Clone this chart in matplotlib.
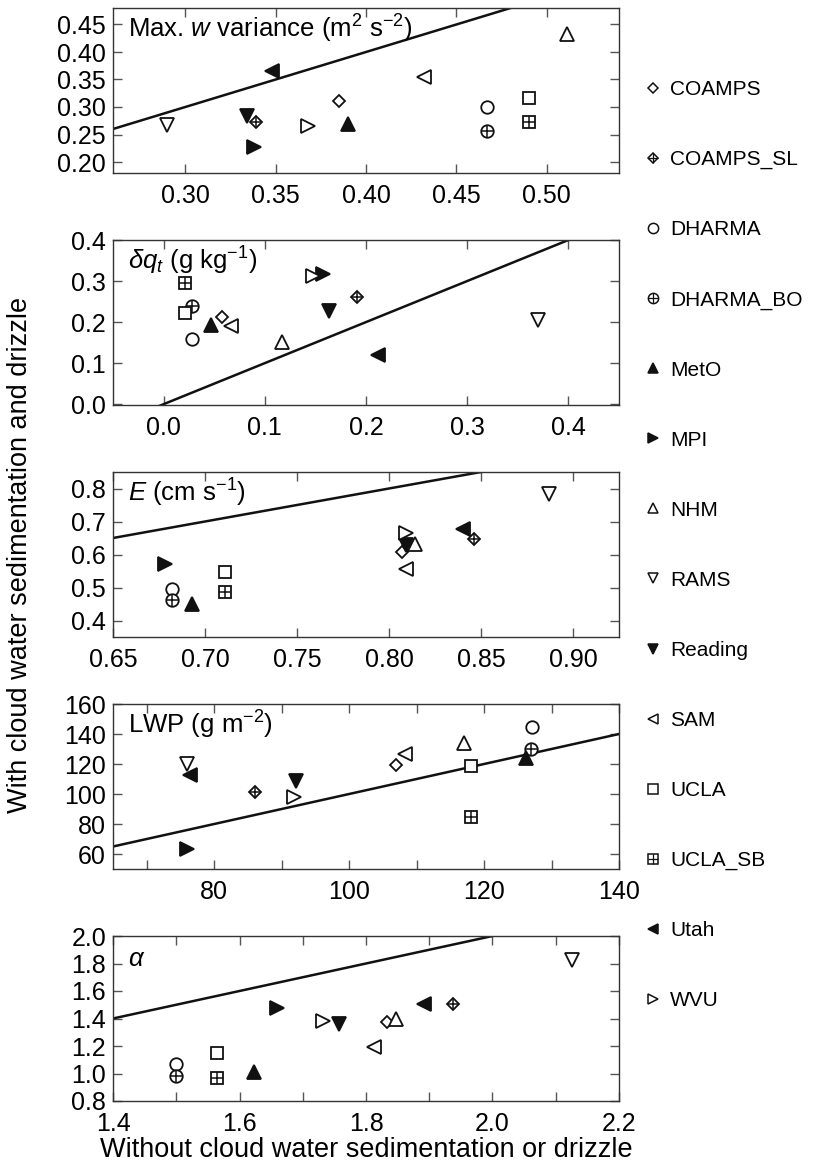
import numpy as np
import matplotlib
matplotlib.use('Agg')
import matplotlib.pyplot as plt
from matplotlib.lines import Line2D
from matplotlib.legend_handler import HandlerTuple
from matplotlib.ticker import MultipleLocator, FormatStrFormatter

plt.rcParams['font.family'] = ['Liberation Sans', 'DejaVu Sans']
plt.rcParams['mathtext.fontset'] = 'custom'
plt.rcParams['mathtext.rm'] = 'Liberation Sans'
plt.rcParams['mathtext.it'] = 'Liberation Sans:italic'

# 模式名称
models = ['COAMPS', 'COAMPS_SL', 'DHARMA', 'DHARMA_BO', 'MetO', 'MPI', 'NHM',
          'RAMS', 'Reading', 'SAM', 'UCLA', 'UCLA_SB', 'Utah', 'WVU']

# 1. 最大 w 方差
wvar_x = [0.385, 0.339, 0.467, 0.467, 0.390, 0.338, 0.511, 0.290, 0.334, 0.432, 0.490, 0.490, 0.348, 0.368]
wvar_y = [0.311, 0.273, 0.300, 0.256, 0.270, 0.228, 0.433, 0.268, 0.283, 0.355, 0.317, 0.273, 0.365, 0.266]
# 2. delta q_t
dqt_x = [0.058, 0.191, 0.0285, 0.0285, 0.047, 0.158, 0.117, 0.370, 0.163, 0.067, 0.0215, 0.0215, 0.212, 0.148]
dqt_y = [0.212, 0.262, 0.159, 0.238, 0.193, 0.318, 0.151, 0.205, 0.226, 0.191, 0.221, 0.295, 0.120, 0.313]
# 3. 夹卷率 E
ent_x = [0.807, 0.846, 0.682, 0.682, 0.693, 0.678, 0.814, 0.887, 0.809, 0.809, 0.711, 0.711, 0.840, 0.809]
ent_y = [0.608, 0.646, 0.495, 0.462, 0.449, 0.572, 0.633, 0.782, 0.628, 0.557, 0.548, 0.487, 0.676, 0.664]
# 4. LWP
lwp_x = [107.0, 86.0, 127.1, 127.0, 126.2, 75.9, 117.0, 75.9, 92.1, 108.3, 118.1, 118.1, 76.4, 91.9]
lwp_y = [119.2, 101.5, 144.4, 130.3, 123.8, 63.3, 134.3, 119.8, 108.7, 127.0, 118.7, 84.6, 112.5, 98.2]
# 5. alpha
alpha_x = [1.833, 1.938, 1.499, 1.499, 1.623, 1.660, 1.847, 2.125, 1.758, 1.812, 1.564, 1.564, 1.891, 1.732]
alpha_y = [1.376, 1.502, 1.067, 0.984, 1.013, 1.473, 1.400, 1.828, 1.357, 1.195, 1.146, 0.965, 1.502, 1.383]

titles = ['Max. $w$ variance (m$^2$ s$^{-2}$)', r'$\delta q_t$ (g kg$^{-1}$)',
          '$E$ (cm s$^{-1}$)', 'LWP (g m$^{-2}$)', r'$\alpha$']

# 符号: (marker, 是否实心, 是否加十字, 大小)
styles = {
    'COAMPS': ('D', False, False, 6.3),
    'COAMPS_SL': ('D', False, True, 6.3),
    'DHARMA': ('o', False, False, 9),
    'DHARMA_BO': ('o', False, True, 9),
    'MetO': ('^', True, False, 9.5),
    'MPI': ('>', True, False, 9.5),
    'NHM': ('^', False, False, 9.5),
    'RAMS': ('v', False, False, 9.5),
    'Reading': ('v', True, False, 9.5),
    'SAM': ('<', False, False, 9.5),
    'UCLA': ('s', False, False, 9),
    'UCLA_SB': ('s', False, True, 9),
    'Utah': ('<', True, False, 9.5),
    'WVU': ('>', False, False, 9.5),
}

panels = [
    (wvar_x, wvar_y, (0.26, 0.54), (0.18, 0.48), 0.05, 0.05, None, '%.2f', '%.2f'),
    (dqt_x, dqt_y, (-0.05, 0.45), (-0.002, 0.4), 0.1, 0.1, None, '%.1f', '%.1f'),
    (ent_x, ent_y, (0.65, 0.925), (0.35, 0.85), 0.05, 0.1, None, '%.2f', '%.1f'),
    (lwp_x, lwp_y, (65, 140), (50, 160), 20, 20, 10, '%.0f', '%.0f'),
    (alpha_x, alpha_y, (1.4, 2.2), (0.8, 2.0), 0.2, 0.2, 0.1, '%.1f', '%.1f'),
]

W, H = 815, 1169
fig = plt.figure(figsize=(W / 100, H / 100), dpi=100)
left, width, height = 113 / W, 506 / W, 165 / H
tops = [8, 240, 472, 704, 936]
k = '#111111'


def plus_size(m, ms):
    return ms * 1.41 if m == 'D' else ms


for i, (xs, ys, xl, yl, xmaj, ymaj, xmin, xfmt, yfmt) in enumerate(panels):
    ax = fig.add_axes([left, 1 - (tops[i] + 165) / H, width, height])
    ax.plot([-1000, 1000], [-1000, 1000], color=k, lw=1.8, zorder=2)
    for name, x, y in zip(models, xs, ys):
        m, filled, plus, ms = styles[name]
        ax.plot(x, y, marker=m, ms=ms, mew=1.3, color=k,
                mfc=k if filled else 'white', ls='none', zorder=3)
        if plus:
            ax.plot(x, y, marker='+', ms=plus_size(m, ms), mew=1.1, color=k, ls='none', zorder=4)
    ax.set_xlim(xl)
    ax.set_ylim(yl)
    ax.xaxis.set_major_locator(MultipleLocator(xmaj))
    ax.yaxis.set_major_locator(MultipleLocator(ymaj))
    if xmin:
        ax.xaxis.set_minor_locator(MultipleLocator(xmin))
    ax.xaxis.set_major_formatter(FormatStrFormatter(xfmt))
    ax.yaxis.set_major_formatter(FormatStrFormatter(yfmt))
    ax.tick_params(which='both', direction='in', top=True, right=True, length=6.5,
                   width=1.0, color='#555555', labelsize=18)
    ax.tick_params(axis='x', pad=8)
    ax.tick_params(axis='y', pad=5)
    for sp in ax.spines.values():
        sp.set_linewidth(1.0)
        sp.set_color('#333333')
    ax.text(0.03, 0.818, titles[i], transform=ax.transAxes, fontsize=18.5,
            ha='left', va='baseline', zorder=5)

fig.text(20 / W, 1 - 555 / H, 'With cloud water sedimentation and drizzle',
         rotation=90, ha='center', va='center', fontsize=19.5)
fig.text((113 + 253) / W, 1 - 1150 / H, 'Without cloud water sedimentation or drizzle',
         ha='center', va='center', fontsize=19.5)

# 图例
handles = []
for name in models:
    m, filled, plus, ms = styles[name]
    lms = ms * 0.82
    h = Line2D([], [], marker=m, ms=lms, mew=1.1, color=k,
               mfc=k if filled else 'white', ls='none')
    if plus:
        h2 = Line2D([], [], marker='+', ms=plus_size(m, lms), mew=0.9, color=k, ls='none')
        handles.append((h, h2))
    else:
        handles.append(h)
fig.legend(handles, models, loc='upper left', bbox_to_anchor=(645 / W, 1 - 80 / H),
           frameon=False, fontsize=15, labelspacing=2.45, handlelength=0.75,
           handletextpad=0.45, borderaxespad=0, borderpad=0,
           handler_map={tuple: HandlerTuple(ndivide=1, pad=0)})

fig.savefig('out.png', dpi=100)
